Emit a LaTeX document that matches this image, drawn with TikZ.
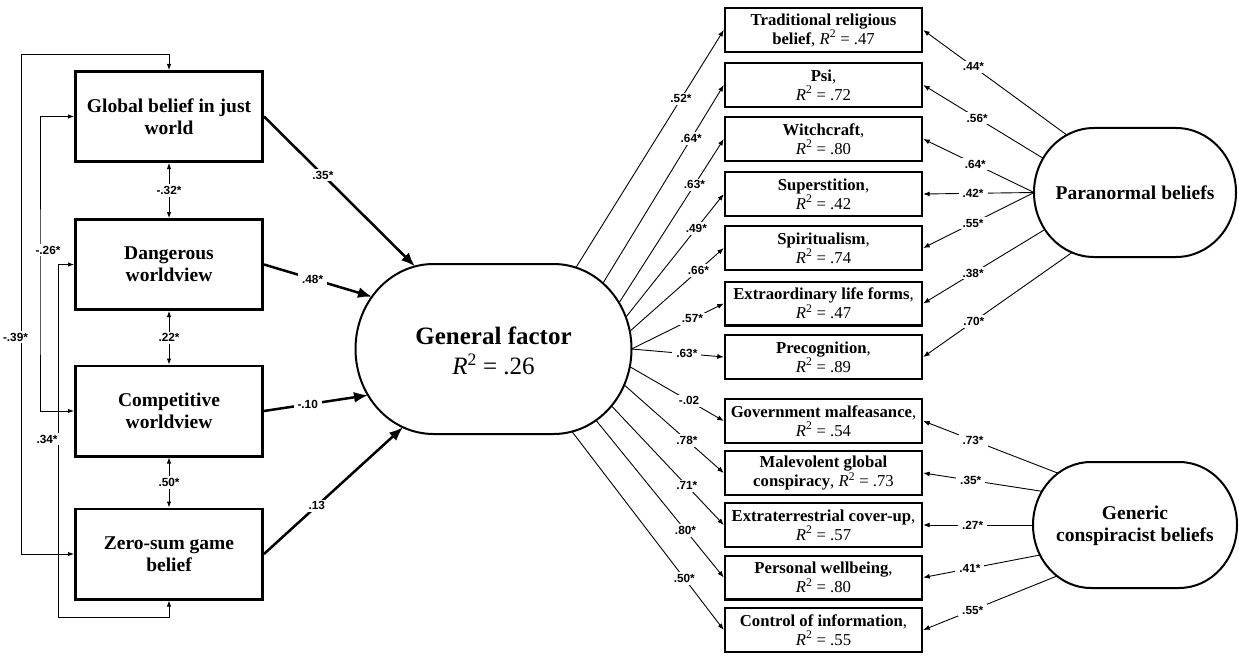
\documentclass[tikz,border=0pt]{standalone}
\usepackage{fontspec}
\setmainfont{Liberation Serif}
\setsansfont{Liberation Sans}
\usetikzlibrary{arrows.meta}

\newcommand{\rsq}[1]{\textit{R}\textsuperscript{2} = #1}
% style, cx, cy, half straight length, x radius, y radius
\newcommand{\drawstadium}[6]{%
 \draw[#1] (#2-#4,#3-#6) -- (#2+#4,#3-#6)
  .. controls (#2+#4+0.5523*#5,#3-#6) and (#2+#4+#5,#3-0.5523*#6) .. (#2+#4+#5,#3)
  .. controls (#2+#4+#5,#3+0.5523*#6) and (#2+#4+0.5523*#5,#3+#6) .. (#2+#4,#3+#6)
  -- (#2-#4,#3+#6)
  .. controls (#2-#4-0.5523*#5,#3+#6) and (#2-#4-#5,#3+0.5523*#6) .. (#2-#4-#5,#3)
  .. controls (#2-#4-#5,#3-0.5523*#6) and (#2-#4-0.5523*#5,#3-#6) .. (#2-#4,#3-#6) -- cycle;}

\tikzset{
 lbox/.style={draw, line width=2.6pt, minimum width=187.4pt, minimum height=90.4pt,
   inner sep=0pt, align=center, font=\fontsize{19.5}{22}\selectfont\bfseries},
 rbox/.style={draw, line width=2.4pt, minimum width=197pt, minimum height=43.6pt,
   inner sep=0pt, align=center, font=\fontsize{16.7}{19}\selectfont},
 lat/.style={align=center, font=\fontsize{19.5}{22}\selectfont\bfseries},
 lbl/.style={font=\sffamily\bfseries\fontsize{11.8}{13}\selectfont, fill=white,
   inner xsep=4pt, inner ysep=2pt},
 ind/.style={line width=0.9pt, -{Latex[length=6.5pt,width=5pt]}},
 covar/.style={line width=0.9pt, {Latex[length=6pt,width=4.5pt]}-{Latex[length=6pt,width=4.5pt]}},
 regarrow/.style={line width=2.5pt, -{Latex[length=14pt,width=11pt]}},
 latentline/.style={line width=2pt},
}

\begin{document}
\begin{tikzpicture}[x=1pt,y=-1pt]
\useasboundingbox (0,0) rectangle (1239,658);
\fill[white] (0,0) rectangle (1239,658);

% ---- left observed boxes
\node[lbox] (gbjw) at (169,116.5) {Global belief in just\\world};
\node[lbox] (dw) at (169,264.5) {Dangerous\\worldview};
\node[lbox] (cw) at (169,411) {Competitive\\worldview};
\node[lbox] (zs) at (169,554) {Zero-sum game\\belief};

% ---- general factor
\node[align=center, font=\fontsize{25}{30}\selectfont] (gf) at (493.5,351)
  {\textbf{General factor}\\\rsq{.26}};
\drawstadium{latentline}{493.5}{349}{60}{78}{85}

% ---- right boxes
\node[rbox] (tr) at (823.5,30) {\textbf{Traditional religious}\\\textbf{belief}, \rsq{.47}};
\node[rbox] (psi) at (823.5,85) {\textbf{Psi},\\\rsq{.72}};
\node[rbox] (wc) at (823.5,139) {\textbf{Witchcraft},\\\rsq{.80}};
\node[rbox] (su) at (823.5,194) {\textbf{Superstition},\\\rsq{.42}};
\node[rbox] (sp) at (823.5,248) {\textbf{Spiritualism},\\\rsq{.74}};
\node[rbox] (ex) at (823.5,303.5) {\textbf{Extraordinary life forms},\\\rsq{.47}};
\node[rbox] (pr) at (823.5,357) {\textbf{Precognition},\\\rsq{.89}};
\node[rbox] (gm) at (823.5,421) {\textbf{Government malfeasance},\\\rsq{.54}};
\node[rbox] (mg) at (823.5,473) {\textbf{Malevolent global}\\\textbf{conspiracy}, \rsq{.73}};
\node[rbox] (et) at (823.5,525) {\textbf{Extraterrestrial cover-up},\\\rsq{.57}};
\node[rbox] (pw) at (823.5,577.5) {\textbf{Personal wellbeing},\\\rsq{.80}};
\node[rbox] (ci) at (823.5,630) {\textbf{Control of information},\\\rsq{.55}};

% ---- right latent factors
\node[lat] (pb) at (1135,192.5) {Paranormal beliefs};
\drawstadium{latentline}{1135}{192.5}{41}{60}{64.5}
\node[lat] (gcb) at (1135,526) {Generic\\conspiracist beliefs};
\drawstadium{latentline}{1135}{525}{44}{58}{63}

% ---- attachment points on latent borders
\coordinate (gfa1) at (415,266.4);
\coordinate (gfa2) at (372,296.7);
\coordinate (gfa3) at (368,395.2);
\coordinate (gfa4) at (403,427.2);
\coordinate (gf1) at (575.9,267.6);
\coordinate (gf2) at (602.9,283.3);
\coordinate (gf3) at (619,302.9);
\coordinate (gf4) at (625.8,317.2);
\coordinate (gf5) at (629.8,331.3);
\coordinate (gf6) at (631.5,349);
\coordinate (gf7) at (629.8,366.7);
\coordinate (gf8) at (624.2,384.9);
\coordinate (gf9) at (611.5,405.9);
\coordinate (gf10) at (596,420.3);
\coordinate (gf11) at (572,431.6);
\coordinate (pb1) at (1066.8,135);
\coordinate (pb2) at (1043.1,158.3);
\coordinate (pb3) at (1034,192.5);
\coordinate (pb4) at (1044.9,229.5);
\coordinate (pb5) at (1072,252.5);
\coordinate (gc1) at (1058,473.2);
\coordinate (gc2) at (1042,491.3);
\coordinate (gc3) at (1033,525);
\coordinate (gc4) at (1040,555);
\coordinate (gc5) at (1057,576);

% ---- correlations among predictors
\coordinate (c39) at (21.5,54);
\coordinate (c26) at (40,300);
\coordinate (c34) at (58.7,617);
\draw[covar] (gbjw.north) |- (c39) |- (zs.west);
\draw[covar] (gbjw.west) -| (c26) |- (cw.west);
\draw[covar] (dw.west) -| (c34) -| (zs.south);
\draw[covar] (gbjw.south) -- node[lbl]{-.32*} (dw.north);
\draw[covar] (dw.south) -- node[lbl]{.22*} (cw.north);
\draw[covar] (cw.south) -- node[lbl]{.50*} (zs.north);
\node[lbl] (l39) at (15.5,337) {-.39*};
\node[lbl] (l26) at (48,250) {-.26*};
\node[lbl] (l34) at (47,439) {.34*};

% ---- regression paths
\draw[regarrow] (gbjw.east) -- node[lbl,pos=.39]{.35*} (gfa1);
\draw[regarrow] (dw.east) -- node[lbl,pos=.45]{.48*} (gfa2);
\draw[regarrow] (cw.east) -- node[lbl,pos=.42]{-.10} (gfa3);
\draw[regarrow] (zs.east) -- node[lbl,pos=.38]{.13} (gfa4);

% ---- general factor loadings
\draw[ind] (gf1) -- node[lbl,pos=.71]{.52*} (tr.west);
\draw[ind] (gf2) -- node[lbl,pos=.73]{.64*} (psi.west);
\draw[ind] (gf3) -- node[lbl,pos=.72]{.63*} (wc.west);
\draw[ind] (gf4) -- node[lbl,pos=.72]{.49*} (su.west);
\draw[ind] (gf5) -- node[lbl,pos=.73]{.66*} (sp.west);
\draw[ind] (gf6) -- node[lbl,pos=.66]{.57*} (ex.west);
\draw[ind] (gf6) -- node[lbl,pos=.60]{.63*} (pr.west);
\draw[ind] (gf7) -- node[lbl,pos=.63]{-.02} (gm.west);
\draw[ind] (gf8) -- node[lbl,pos=.63]{.78*} (mg.west);
\draw[ind] (gf9) -- node[lbl,pos=.67]{.71*} (et.west);
\draw[ind] (gf10) -- node[lbl,pos=.70]{.80*} (pw.west);
\draw[ind] (gf11) -- node[lbl,pos=.74]{.50*} (ci.west);

% ---- paranormal loadings
\draw[ind] (pb1) -- node[lbl,pos=.65]{.44*} (tr.east);
\draw[ind] (pb2) -- node[lbl,pos=.55]{.56*} (psi.east);
\draw[ind] (pb3) -- node[lbl,pos=.53]{.64*} (wc.east);
\draw[ind] (pb3) -- node[lbl,pos=.55]{.42*} (su.east);
\draw[ind] (pb3) -- node[lbl,pos=.55]{.55*} (sp.east);
\draw[ind] (pb4) -- node[lbl,pos=.59]{.38*} (ex.east);
\draw[ind] (pb5) -- node[lbl,pos=.66]{.70*} (pr.east);

% ---- conspiracist loadings
\draw[ind] (gc1) -- node[lbl,pos=.63]{.73*} (gm.east);
\draw[ind] (gc2) -- node[lbl,pos=.60]{.35*} (mg.east);
\draw[ind] (gc3) -- node[lbl,pos=.55]{.27*} (et.east);
\draw[ind] (gc4) -- node[lbl,pos=.60]{.41*} (pw.east);
\draw[ind] (gc5) -- node[lbl,pos=.63]{.55*} (ci.east);
\end{tikzpicture}
\end{document}
